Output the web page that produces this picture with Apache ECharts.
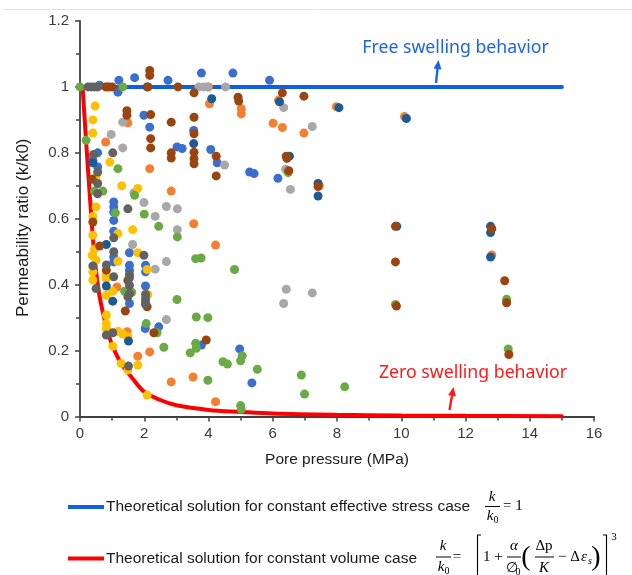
<!DOCTYPE html>
<html>
<head>
<meta charset="utf-8">
<script src="https://cdn.jsdelivr.net/npm/echarts@6/dist/echarts.min.js"></script>
<style>
  html, body { margin: 0; padding: 0; background: #fff; }
  #chart { width: 632px; height: 575px; }
</style>
</head>
<body>
<div id="chart"></div>
<script>
// Axis ticks
const xTicks = { min: 0, max: 16, step: 2 };
const yTicks = { min: 0, max: 1.2, step: 0.2 };

// Theoretical solutions: [pore pressure (MPa), k/k0]
const effectiveStressLine = [[0, 1], [15, 1]];
const constantVolumeCurve = [
  [0.08, 1.0], [0.14, 0.91], [0.2, 0.82], [0.27, 0.72], [0.35, 0.61], [0.42, 0.52],
  [0.5, 0.44], [0.6, 0.37], [0.75, 0.30], [0.9, 0.245], [1.05, 0.205], [1.3, 0.158],
  [1.6, 0.12], [2.0, 0.075], [2.5, 0.05], [3.0, 0.034], [4.0, 0.02], [5.0, 0.014],
  [6.0, 0.009], [8.0, 0.005], [10, 0.003], [12, 0.002], [15, 0.001]
];

// Measured permeability ratios, one array per data set
const setBlue = [
  [0.61,1.005],[1.21,1.02],[1.18,0.984],[1.70,1.028],[2.74,1.02],[3.78,1.042],[4.76,1.042],[5.90,1.02],
  [1.99,0.914],[2.17,0.878],[3.02,0.818],[3.18,0.813],[3.54,0.868],[4.07,0.81],[4.27,0.77],[5.28,0.742],[5.42,0.737],[6.16,0.723],
  [0.55,0.80],[0.40,0.777],[0.55,0.757],
  [1.05,0.651],[1.05,0.636],[1.05,0.62],[1.05,0.595],[1.05,0.562],[1.05,0.484],[1.05,0.469],
  [1.54,0.497],[1.54,0.459],[1.54,0.444],[1.54,0.343],
  [2.04,0.459],[2.04,0.439],[2.04,0.396],[2.03,0.267],[2.45,0.272],[3.78,0.217],[4.97,0.205],[5.35,0.102]
];
const setOrange = [
  [0.85,1.0],[4.00,1.0],[4.03,0.949],[6.18,0.96],[5.02,0.934],[5.02,0.918],[7.98,0.94],[10.10,0.91],
  [6.01,0.89],[6.30,0.877],[6.97,0.86],[0.80,0.833],[1.49,0.891],[2.17,0.752],[2.84,0.684],[7.45,0.70],
  [12.82,0.49],[3.54,0.585],[4.22,0.52],[1.15,0.393],[1.47,0.257],[1.80,0.183],[2.17,0.196],[2.84,0.105],
  [3.52,0.12],[4.22,0.045]
];
const setGray = [
  [3.70,1.0],[3.85,1.0],[3.97,1.0],[4.53,1.0],[6.34,0.937],[7.23,0.88],[4.50,0.763],[6.40,0.75],[6.55,0.689],
  [1.33,0.893],[0.97,0.856],[1.33,0.815],[1.99,0.649],[2.34,0.607],[2.69,0.637],[3.03,0.63],[1.68,0.679],
  [3.03,0.567],[1.64,0.522],[2.69,0.47],[2.34,0.447],[2.69,0.294],[6.42,0.386],[6.34,0.343],[7.23,0.375]
];
const setGold = [
  [0.47,0.942],[0.40,0.90],[0.40,0.86],[0.93,0.772],[0.50,0.727],[1.30,0.70],[1.80,0.692],[0.50,0.636],
  [0.40,0.607],[0.40,0.55],[0.45,0.508],[0.38,0.489],[0.50,0.474],[0.40,0.439],[0.40,0.414],[0.82,0.43],
  [0.82,0.418],[0.82,0.368],[1.02,0.38],[0.82,0.308],[0.82,0.282],[0.82,0.267],[1.18,0.258],[1.33,0.25],
  [1.49,0.242],[1.02,0.213],[1.28,0.161],[1.49,0.141],[1.80,0.156],[2.09,0.065],[1.18,0.555],[1.64,0.567],
  [1.80,0.497],[1.18,0.471],[2.09,0.446],[2.11,0.37]
];
const setGreen = [
  [0,1.0],[1.33,1.0],[0.19,0.838],[1.18,0.752],[0.45,0.684],[0.71,0.684],[1.70,0.671],[1.10,0.618],
  [2.00,0.614],[2.45,0.577],[3.03,0.545],[3.60,0.479],[3.77,0.481],[4.81,0.446],[1.39,0.38],[1.61,0.377],
  [3.02,0.355],[3.62,0.302],[3.98,0.30],[2.06,0.282],[2.40,0.254],[2.61,0.21],[3.60,0.222],[3.62,0.207],
  [3.43,0.193],[4.45,0.166],[4.59,0.159],[5.05,0.184],[5.00,0.169],[5.52,0.143],[3.98,0.11],[6.89,0.126],
  [6.99,0.068],[8.24,0.09],[5.00,0.033],[5.02,0.022],[9.82,0.34],[13.28,0.356],[13.33,0.205],[6.48,0.74]
];
const setNavy = [
  [2.09,1.0],[4.10,0.964],[6.21,0.955],[8.06,0.937],[10.16,0.904],[3.54,0.828],[6.52,0.79],[7.41,0.707],
  [7.41,0.669],[9.86,0.577],[12.78,0.577],[12.78,0.558],[12.78,0.484],[0.40,0.77],[0.82,0.522],[0.82,0.396],
  [1.02,0.35],[1.51,0.229]
];
const setBrown = [
  [0.80,1.0],[0.90,1.0],[1.00,1.0],[2.17,1.05],[2.17,1.035],[2.12,1.0],[3.05,1.0],[3.55,0.982],[4.92,0.969],
  [4.94,0.957],[6.30,0.982],[6.97,0.972],[1.46,0.928],[1.46,0.914],[2.20,0.916],[2.84,0.893],[3.55,0.908],
  [3.55,0.858],[2.20,0.843],[2.20,0.815],[3.55,0.802],[3.55,0.782],[3.55,0.767],[2.84,0.80],[2.84,0.784],
  [4.24,0.79],[4.24,0.73],[6.42,0.79],[6.44,0.783],[6.50,0.746],[7.41,0.698],[0.38,0.72],[0.40,0.59],
  [0.61,0.517],[0.82,0.444],[1.49,0.413],[1.41,0.32],[2.09,0.333],[2.30,0.254],[3.93,0.232],[9.82,0.577],
  [9.82,0.469],[9.85,0.335],[12.82,0.57],[13.22,0.412],[13.28,0.345],[13.35,0.188]
];
const setDarkGray = [
  [0.25,1.0],[0.35,1.0],[0.45,1.0],[0.55,1.0],[0.42,0.795],[1.02,0.80],[0.55,0.742],[0.55,0.707],[0.55,0.676],
  [1.49,0.63],[1.05,0.542],[1.05,0.50],[1.05,0.424],[0.40,0.457],[0.50,0.388],[0.82,0.46],[1.99,0.489],
  [1.54,0.431],[1.54,0.421],[1.54,0.398],[1.54,0.373],[1.49,0.363],[2.04,0.37],[2.04,0.358],[2.04,0.348],
  [2.04,0.34],[0.82,0.247],[1.02,0.254],[1.51,0.153]
];

const legendEff = 'Theoretical solution for constant effective stress case';
const legendVol = 'Theoretical solution for constant volume case';

const SANS = 'Liberation Sans, Arial, sans-serif';
const SERIF = 'Liberation Serif, Times New Roman, serif';
const BLUE_LINE = '#0f5fe3';
const RED_LINE = '#ff0000';

const chart = echarts.init(document.getElementById('chart'), null, { renderer: 'canvas' });

function scatter(name, data, color) {
  return {
    name, type: 'scatter', data, symbol: 'circle', symbolSize: 9,
    itemStyle: { color, opacity: 1 }, z: 3, silent: true
  };
}

// Arrow drawn as a shaft plus a triangular head
function arrow(x1, y1, x2, y2, color) {
  const dx = x2 - x1, dy = y2 - y1, len = Math.hypot(dx, dy);
  const ux = dx / len, uy = dy / len, hl = 9, hw = 4;
  const bx = x2 - ux * hl, by = y2 - uy * hl;
  return {
    type: 'group', children: [
      { type: 'line', shape: { x1, y1, x2: bx, y2: by }, style: { stroke: color, lineWidth: 2.4 } },
      { type: 'polygon', shape: { points: [[x2, y2], [bx - uy * hw, by + ux * hw], [bx + uy * hw, by - ux * hw]] }, style: { fill: color } }
    ]
  };
}

function txt(x, y, text, size, opts) {
  opts = opts || {};
  return {
    type: 'text', x, y,
    style: {
      text, fontSize: size, fontFamily: opts.family || SERIF, fontStyle: opts.italic ? 'italic' : 'normal',
      fill: opts.color || '#000', align: opts.align || 'center', verticalAlign: 'middle'
    }
  };
}
function bar(x1, x2, y) {
  return { type: 'line', shape: { x1, y1: y, x2, y2: y }, style: { stroke: '#000', lineWidth: 1 } };
}

const formulaEff = [
  txt(492, 497, 'k', 15, { italic: true }),
  bar(485, 500, 506.5),
  txt(490, 516, 'k', 15, { italic: true }),
  txt(496, 520, '0', 10),
  txt(503, 506, '= 1', 15, { align: 'left' })
];

const formulaVol = [
  txt(443, 546, 'k', 15, { italic: true }),
  bar(436, 451, 557),
  txt(441, 567, 'k', 15, { italic: true }),
  txt(447, 571, '0', 10),
  txt(457, 557, '=', 15),
  { type: 'polyline', shape: { points: [[481, 535], [477.5, 535], [477.5, 580]] }, style: { stroke: '#000', lineWidth: 1.1, fill: null } },
  txt(483, 557, '1 +', 15, { align: 'left' }),
  txt(514, 546, 'α', 15, { italic: true }),
  bar(507, 521, 557),
  txt(512, 568, '∅', 14),
  txt(518, 572, '0', 10),
  txt(526, 558, '(', 28),
  txt(544, 546, 'Δp', 15, { italic: false }),
  bar(535, 554, 557),
  txt(544, 568, 'K', 15, { italic: true }),
  txt(558, 557, '− Δ', 15, { align: 'left' }),
  txt(581, 557, 'ε', 15, { italic: true, align: 'left' }),
  txt(588, 561, 's', 10, { italic: true, align: 'left' }),
  txt(596, 558, ')', 28),
  { type: 'polyline', shape: { points: [[603, 535], [606.5, 535], [606.5, 580]] }, style: { stroke: '#000', lineWidth: 1.1, fill: null } },
  txt(614, 537, '3', 11)
];

chart.setOption({
  animation: false,
  backgroundColor: '#ffffff',
  grid: { left: 80, right: 38, top: 21, bottom: 158.5, containLabel: false },
  xAxis: {
    type: 'value', min: xTicks.min, max: xTicks.max, interval: xTicks.step,
    name: 'Pore pressure (MPa)', nameLocation: 'middle', nameGap: 35,
    nameTextStyle: { fontFamily: SANS, fontSize: 15.5, color: '#1a1a1a' },
    axisLine: { show: true, onZero: false, lineStyle: { color: '#404040', width: 1.8 } },
    axisTick: { show: true, inside: false, length: 5, lineStyle: { color: '#404040', width: 1.5 } },
    minorTick: { show: true, splitNumber: 2, length: 4, lineStyle: { color: '#404040', width: 1.5 } },
    axisLabel: { fontFamily: SANS, fontSize: 15, color: '#3a3a3a', margin: 10 },
    splitLine: { show: false }
  },
  yAxis: {
    type: 'value', min: yTicks.min, max: yTicks.max, interval: yTicks.step,
    name: 'Permeability ratio (k/k0)', nameLocation: 'middle', nameGap: 48,
    nameTextStyle: { fontFamily: SANS, fontSize: 17, color: '#1a1a1a', padding: [0, 18, 0, 0] },
    axisLine: { show: true, onZero: false, lineStyle: { color: '#404040', width: 1.8 } },
    axisTick: { show: true, inside: false, length: 5, lineStyle: { color: '#404040', width: 1.5 } },
    minorTick: { show: true, splitNumber: 2, length: 4, lineStyle: { color: '#404040', width: 1.5 } },
    axisLabel: { fontFamily: SANS, fontSize: 15, color: '#3a3a3a', margin: 11 },
    splitLine: { show: false }
  },
  legend: {
    data: [{ name: legendEff, icon: 'rect' }, { name: legendVol, icon: 'rect' }],
    orient: 'vertical', left: 63, top: 494, itemWidth: 36, itemHeight: 4, itemGap: 35.5,
    selectedMode: false,
    textStyle: { fontFamily: SANS, fontSize: 15.5, color: '#1a1a1a', padding: [0, 0, 0, -3] }
  },
  series: [
    {
      name: legendEff, type: 'line', data: effectiveStressLine, symbol: 'none', z: 2,
      lineStyle: { color: BLUE_LINE, width: 4, cap: 'round' }, itemStyle: { color: BLUE_LINE }, silent: true
    },
    {
      name: legendVol, type: 'line', data: constantVolumeCurve, symbol: 'none', smooth: 0.35, z: 2,
      lineStyle: { color: RED_LINE, width: 4, cap: 'round' }, itemStyle: { color: RED_LINE }, silent: true
    },
    scatter('Set 1', setBlue, '#3b6fcc'),
    scatter('Set 2', setOrange, '#f47f30'),
    scatter('Set 3', setGray, '#a8a8a8'),
    scatter('Set 4', setGold, '#ffc000'),
    scatter('Set 5', setGreen, '#6aaa45'),
    scatter('Set 6', setNavy, '#1e5a94'),
    scatter('Set 7', setBrown, '#9a4510'),
    scatter('Set 8', setDarkGray, '#626262')
  ],
  graphic: [
    { type: 'line', shape: { x1: 3, y1: 9.5, x2: 632, y2: 9.5 }, style: { stroke: '#e3e3e3', lineWidth: 1 } },
    txt(455.5, 48, 'Free swelling behavior', 17.7, { family: 'Noto Sans, Open Sans, sans-serif', color: '#1f63e0' }),
    arrow(436, 83, 438.5, 60, '#1f63e0'),
    txt(473, 373, 'Zero swelling behavior', 17.7, { family: 'Noto Sans, Open Sans, sans-serif', color: '#ff1a1a' }),
    arrow(449.5, 410, 453.5, 387, '#ff1a1a')
  ].concat(formulaEff, formulaVol)
});
</script>
</body>
</html>
